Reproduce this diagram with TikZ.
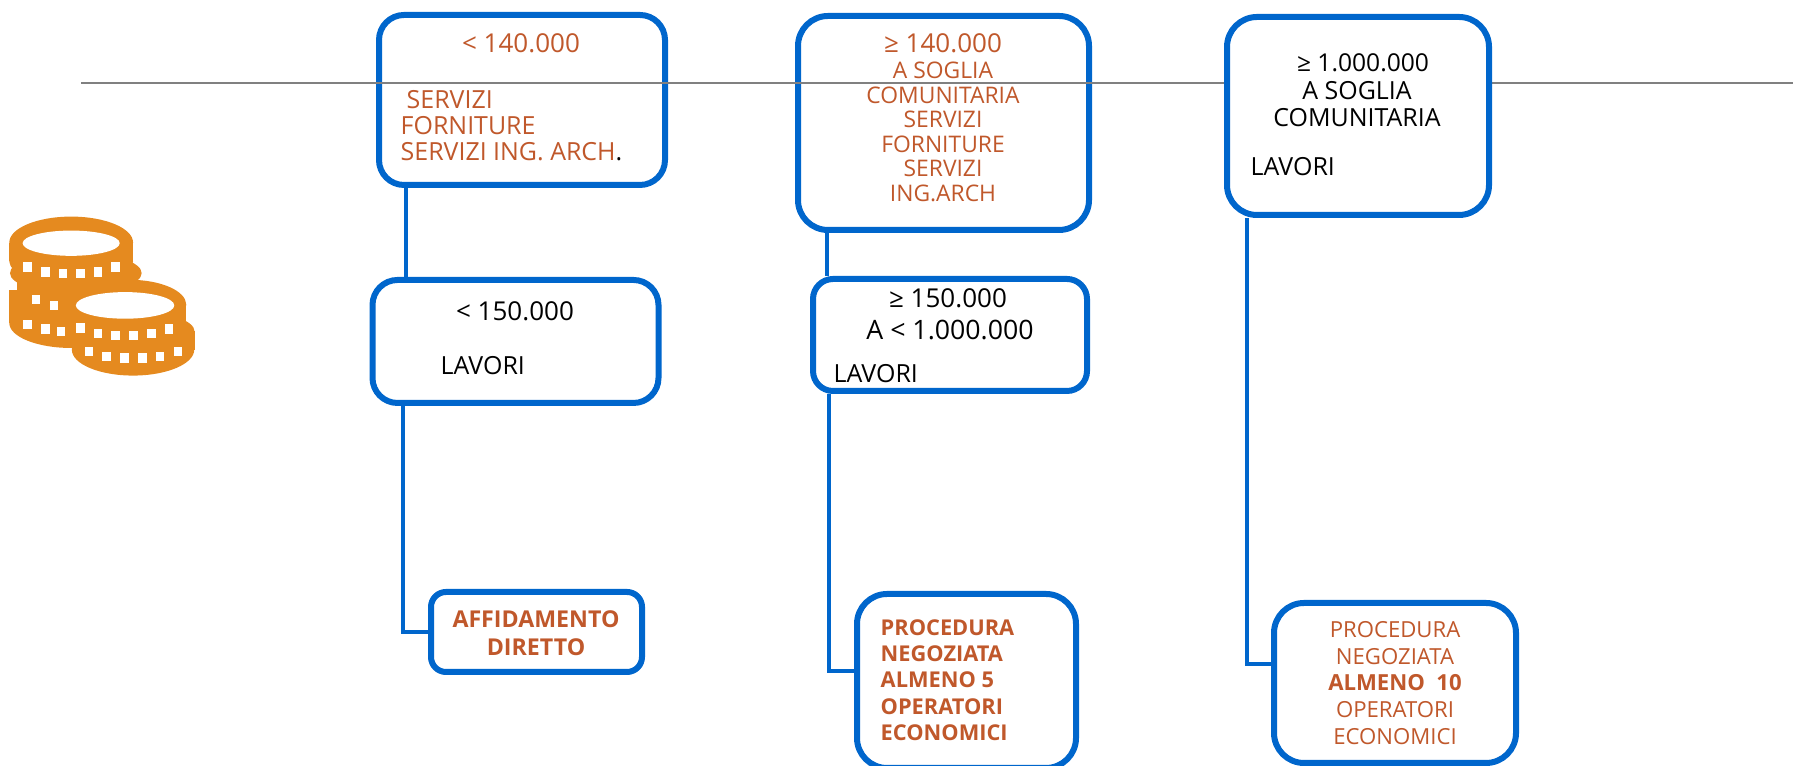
\documentclass[tikz,border=0pt]{standalone}
\usepackage{fontspec}
\setmainfont{Open Sans}
\definecolor{boxblue}{HTML}{0066CC}
\definecolor{rust}{HTML}{C0582B}
\definecolor{coin}{HTML}{E58A1F}
\tikzset{
  infobox/.style={draw=boxblue, line width=0.06cm, fill=white, rounded corners=0.25cm, inner sep=0pt},
  link/.style={draw=boxblue, line width=0.045cm},
  bigtxt/.style={inner sep=0pt, font=\fontsize{7.4}{9}\selectfont},
  smalltxt/.style={inner sep=0pt, align=center, font=\fontsize{6.5}{6.97}\selectfont},
  lefttxt/.style={smalltxt, anchor=west, align=left, font=\fontsize{7.1}{8}\selectfont},
  boldtxt/.style={smalltxt, text=rust, font=\fontsize{6.2}{7.5}\selectfont\bfseries}
}
\begin{document}
\begin{tikzpicture}[x=1cm, y=1cm]
\useasboundingbox (0,0) rectangle (17.93,7.66);
\coordinate (upa) at (4.06,5);
\coordinate (upb) at (8.27,5);
\coordinate (joina) at (4.03,1.34);
\coordinate (joinb) at (8.29,0.95);
\coordinate (joinc) at (12.47,1.02);
\node[infobox, minimum width=2.86cm, minimum height=1.70cm] (under140) at (5.22,6.66) {};
\node[infobox, minimum width=2.91cm, minimum height=2.14cm, rounded corners=0.3cm] (over140) at (9.435,6.43) {};
\draw[gray, line width=0.015cm] (0.81,6.83) -- (17.93,6.83);
\node[infobox, minimum width=2.62cm, minimum height=1.98cm, rounded corners=0.3cm] (over1m) at (13.58,6.50) {};
\node[infobox, minimum width=2.86cm, minimum height=1.23cm] (under150) at (5.155,4.245) {};
\node[infobox, minimum width=2.74cm, minimum height=1.12cm, rounded corners=0.2cm] (over150) at (9.50,4.31) {};
\node[infobox, minimum width=2.11cm, minimum height=0.80cm, rounded corners=0.15cm] (direct) at (5.365,1.34) {};
\node[infobox, minimum width=2.19cm, minimum height=1.74cm, rounded corners=0.3cm] (five) at (9.665,0.85) {};
\node[infobox, minimum width=2.42cm, minimum height=1.60cm, rounded corners=0.3cm] (ten) at (13.95,0.83) {};
\draw[link] (under140.south -| upa) -- (under150.north -| upa);
\draw[link] (over140.south -| upb) -- (over150.north -| upb);
\draw[link] (under150.south -| joina) -- (joina) -- (direct.west |- joina);
\draw[link] (over150.south -| joinb) -- (joinb) -- (five.west |- joinb);
\draw[link] (over1m.south -| joinc) -- (joinc) -- (ten.west |- joinc);
\node[bigtxt, text=rust] (t140a) at (5.21,7.23) {< 140.000};
\node[lefttxt, text=rust] (t140b) at (4.06,6.66) {SERVIZI};
\node[lefttxt, text=rust] (t140c) at (4.00,6.40) {FORNITURE};
\node[lefttxt, text=rust] (t140d) at (4.00,6.14) {SERVIZI ING. ARCH\textcolor{black}{.}};
\node[bigtxt, text=rust] (t140e) at (9.43,7.23) {≥ 140.000};
\node[smalltxt, text=rust] (t140f) at (9.43,6.34) {A SOGLIA\\COMUNITARIA\\SERVIZI\\FORNITURE\\SERVIZI\\ING.ARCH};
\node[bigtxt, font=\fontsize{7}{9}\selectfont] (t1ma) at (13.63,7.03) {≥ 1.000.000};
\node[smalltxt, font=\fontsize{7.1}{7.7}\selectfont] (t1mb) at (13.57,6.62) {A SOGLIA\\COMUNITARIA};
\node[lefttxt] (t1mc) at (12.50,5.99) {LAVORI};
\node[bigtxt] (t150a) at (5.15,4.55) {< 150.000};
\node[lefttxt] (t150b) at (4.40,4.00) {LAVORI};
\node[bigtxt] (t150c) at (9.48,4.68) {≥ 150.000};
\node[bigtxt, font=\fontsize{7.6}{9}\selectfont] (t150d) at (9.50,4.36) {A < 1.000.000};
\node[lefttxt] (t150e) at (8.33,3.92) {LAVORI};
\node[boldtxt, font=\fontsize{6.6}{8}\selectfont\bfseries] (tdirect) at (5.36,1.33) {AFFIDAMENTO\\DIRETTO};
\node[boldtxt, anchor=west, align=left] (tfive) at (8.80,0.86) {PROCEDURA\\NEGOZIATA\\ALMENO 5\\OPERATORI\\ECONOMICI};
\node[smalltxt, text=rust, font=\fontsize{6.3}{7.6}\selectfont] (tten) at (13.95,0.83) {PROCEDURA\\NEGOZIATA\\\textbf{ALMENO~~10}\\OPERATORI\\ECONOMICI};
\begin{scope}[shift={(0,5.76)}, x=0.0033333cm, y=-0.0033333cm]
\fill[coin] (214,400) ellipse (186 and 75);
\fill[coin] (28,300) rectangle (400,400);
\fill[coin] (228,250) ellipse (198 and 62);
\fill[coin] (50,230) rectangle (380,320);
\fill[coin] (214,215) ellipse (186 and 65);
\fill[coin] (28,158) rectangle (400,215);
\fill[coin] (214,158) ellipse (186 and 78);
\fill[white] (214,160) ellipse (146 and 38);
\foreach \px/\py in {82/232,136/247,189/252,242/252,295/247,348/232,108/330,162/347,82/405,136/418,183/425}
  \fill[white] (\px-13,\py-14) rectangle (\px+13,\py+14);
\fill[coin] (400,425) ellipse (185 and 60);
\fill[coin] (216,425) rectangle (585,480);
\fill[coin] (400,480) ellipse (184 and 78);
\fill[coin] (390,345) ellipse (170 and 75);
\fill[coin] (220,345) rectangle (560,420);
\fill[white] (376,347) ellipse (148 and 40);
\foreach \px/\py in {242/415,295/432,348/438,401/438,455/432,508/418,268/485,321/500,374/505,428/505,481/500,535/485}
  \fill[white] (\px-13,\py-14) rectangle (\px+13,\py+14);
\end{scope}
\end{tikzpicture}
\end{document}
